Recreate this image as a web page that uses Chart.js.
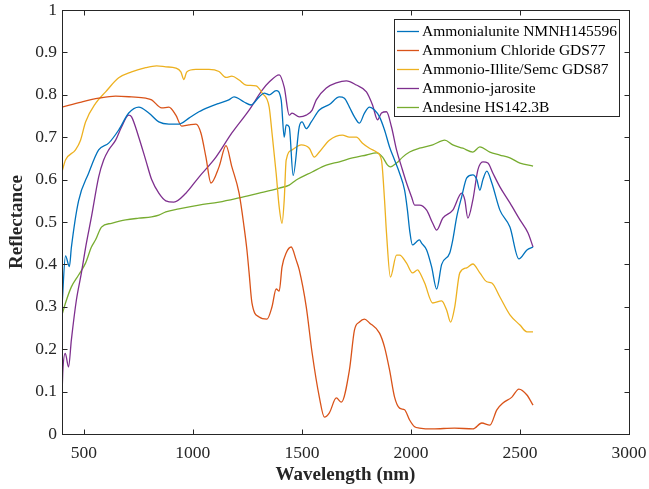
<!DOCTYPE html>
<html>
<head>
<meta charset="utf-8">
<script src="https://cdn.jsdelivr.net/npm/chart.js@4.4.1/dist/chart.umd.min.js"></script>
<style>
  html, body { margin: 0; padding: 0; background: #fff; }
  #wrap { width: 649px; height: 489px; }
</style>
</head>
<body>
<div id="wrap"><canvas id="c" width="649" height="489"></canvas></div>
<script>
// ---- Data ----
const seriesNames = ["Ammonialunite NMNH145596", "Ammonium Chloride GDS77", "Ammonio-Illite/Semc GDS87", "Ammonio-jarosite", "Andesine HS142.3B"];
const seriesColors = ["#0072BD", "#D95319", "#EDB120", "#7E2F8E", "#77AC30"];

const xTickValues = [500, 1000, 1500, 2000, 2500, 3000];
const yTickValues = [0, 0.1, 0.2, 0.3, 0.4, 0.5, 0.6, 0.7, 0.8, 0.9, 1];

const alunWl = [400, 416, 434, 443, 476, 522, 568, 614, 660, 706, 752, 798, 844, 890, 936, 982, 1028, 1074, 1120, 1165, 1189, 1235, 1267, 1304, 1327, 1350, 1382, 1405, 1419, 1428, 1442, 1460, 1488, 1501, 1520, 1543, 1580, 1626, 1672, 1695, 1718, 1741, 1764, 1787, 1810, 1833, 1856, 1879, 1902, 1925, 1948, 1971, 1984, 1994, 2007, 2025, 2039, 2049, 2072, 2095, 2118, 2141, 2178, 2192, 2210, 2233, 2256, 2284, 2302, 2316, 2330, 2348, 2371, 2408, 2454, 2495, 2532, 2560];
const alunR  = [0.30, 0.42, 0.395, 0.44, 0.55, 0.615, 0.67, 0.686, 0.717, 0.757, 0.771, 0.757, 0.736, 0.731, 0.731, 0.745, 0.76, 0.771, 0.78, 0.788, 0.795, 0.783, 0.776, 0.795, 0.804, 0.80, 0.81, 0.788, 0.70, 0.729, 0.724, 0.61, 0.725, 0.736, 0.72, 0.736, 0.764, 0.777, 0.795, 0.792, 0.771, 0.748, 0.733, 0.757, 0.771, 0.764, 0.748, 0.717, 0.677, 0.646, 0.615, 0.575, 0.528, 0.481, 0.446, 0.453, 0.458, 0.45, 0.434, 0.394, 0.342, 0.40, 0.427, 0.458, 0.512, 0.56, 0.604, 0.611, 0.60, 0.575, 0.60, 0.62, 0.592, 0.528, 0.488, 0.413, 0.434, 0.441];

const chlorWl = [400, 489, 568, 646, 719, 784, 811, 857, 890, 922, 949, 982, 1014, 1037, 1060, 1083, 1120, 1152, 1179, 1212, 1235, 1248, 1258, 1271, 1304, 1340, 1363, 1382, 1396, 1409, 1428, 1451, 1474, 1488, 1520, 1547, 1580, 1603, 1626, 1658, 1681, 1718, 1741, 1764, 1787, 1810, 1856, 1879, 1902, 1925, 1948, 1971, 1994, 2017, 2039, 2100, 2200, 2284, 2325, 2362, 2394, 2422, 2463, 2495, 2532, 2560];
const chlorR  = [0.771, 0.783, 0.792, 0.797, 0.795, 0.792, 0.788, 0.769, 0.771, 0.752, 0.726, 0.729, 0.731, 0.71, 0.653, 0.592, 0.63, 0.68, 0.63, 0.568, 0.488, 0.434, 0.38, 0.309, 0.276, 0.271, 0.30, 0.342, 0.337, 0.394, 0.427, 0.441, 0.41, 0.387, 0.30, 0.191, 0.087, 0.04, 0.05, 0.085, 0.075, 0.151, 0.245, 0.264, 0.271, 0.262, 0.238, 0.205, 0.151, 0.087, 0.061, 0.057, 0.033, 0.017, 0.014, 0.012, 0.014, 0.012, 0.026, 0.021, 0.057, 0.073, 0.087, 0.106, 0.092, 0.068];

const illWl = [400, 416, 462, 485, 508, 554, 600, 660, 719, 784, 834, 876, 922, 945, 959, 972, 1014, 1074, 1120, 1152, 1179, 1212, 1244, 1290, 1318, 1350, 1363, 1382, 1396, 1409, 1419, 1428, 1455, 1497, 1534, 1557, 1580, 1626, 1686, 1718, 1750, 1778, 1810, 1842, 1865, 1879, 1888, 1906, 1934, 1948, 1980, 2007, 2031, 2039, 2063, 2100, 2141, 2164, 2182, 2201, 2224, 2256, 2284, 2316, 2348, 2371, 2408, 2454, 2500, 2532, 2560];
const illR  = [0.618, 0.646, 0.67, 0.693, 0.736, 0.78, 0.807, 0.84, 0.854, 0.864, 0.868, 0.866, 0.863, 0.854, 0.836, 0.854, 0.86, 0.86, 0.855, 0.841, 0.844, 0.835, 0.823, 0.821, 0.804, 0.771, 0.71, 0.615, 0.535, 0.497, 0.552, 0.646, 0.67, 0.682, 0.674, 0.653, 0.665, 0.693, 0.705, 0.70, 0.70, 0.686, 0.674, 0.665, 0.646, 0.552, 0.474, 0.37, 0.422, 0.422, 0.403, 0.38, 0.387, 0.382, 0.356, 0.309, 0.314, 0.292, 0.264, 0.30, 0.38, 0.392, 0.401, 0.38, 0.359, 0.356, 0.323, 0.281, 0.257, 0.241, 0.241];

const jarWl = [400, 404, 415, 430, 443, 466, 489, 510, 535, 568, 591, 614, 646, 673, 706, 719, 752, 784, 811, 844, 876, 913, 968, 1028, 1106, 1179, 1258, 1318, 1350, 1396, 1419, 1442, 1455, 1488, 1520, 1547, 1566, 1612, 1658, 1704, 1750, 1796, 1824, 1847, 1865, 1888, 1911, 1934, 1957, 1980, 2003, 2017, 2039, 2072, 2100, 2118, 2146, 2192, 2233, 2247, 2261, 2284, 2307, 2330, 2353, 2376, 2408, 2454, 2500, 2537, 2560];
const jarR  = [0.09, 0.15, 0.19, 0.158, 0.222, 0.316, 0.38, 0.445, 0.512, 0.606, 0.646, 0.67, 0.693, 0.724, 0.752, 0.748, 0.70, 0.646, 0.60, 0.568, 0.55, 0.547, 0.568, 0.606, 0.653, 0.71, 0.764, 0.811, 0.83, 0.847, 0.818, 0.752, 0.757, 0.748, 0.752, 0.764, 0.788, 0.816, 0.828, 0.833, 0.823, 0.807, 0.776, 0.741, 0.757, 0.76, 0.724, 0.67, 0.63, 0.592, 0.559, 0.54, 0.54, 0.528, 0.497, 0.481, 0.509, 0.528, 0.568, 0.552, 0.509, 0.552, 0.623, 0.642, 0.639, 0.615, 0.583, 0.545, 0.505, 0.474, 0.441];

const andWl = [400, 416, 443, 476, 508, 535, 554, 581, 627, 692, 752, 811, 844, 876, 936, 1028, 1120, 1212, 1304, 1363, 1396, 1442, 1474, 1547, 1612, 1672, 1732, 1796, 1842, 1870, 1893, 1906, 1934, 1962, 1994, 2039, 2100, 2155, 2192, 2238, 2284, 2316, 2362, 2408, 2454, 2500, 2560];
const andR  = [0.281, 0.309, 0.347, 0.375, 0.403, 0.441, 0.458, 0.488, 0.497, 0.505, 0.509, 0.512, 0.516, 0.524, 0.531, 0.54, 0.547, 0.557, 0.568, 0.575, 0.58, 0.587, 0.599, 0.618, 0.634, 0.642, 0.651, 0.658, 0.663, 0.653, 0.634, 0.63, 0.639, 0.653, 0.665, 0.674, 0.682, 0.693, 0.682, 0.674, 0.665, 0.677, 0.665, 0.658, 0.651, 0.639, 0.632];

// ---- Build datasets ----
const seriesX = [alunWl, chlorWl, illWl, jarWl, andWl];
const seriesY = [alunR, chlorR, illR, jarR, andR];
const FONT = "'Liberation Serif', 'Times New Roman', serif";
const AX = "#262626";

const datasets = seriesNames.map((name, i) => ({
  label: name,
  data: seriesX[i].map((x, k) => ({ x: x, y: seriesY[i][k] })),
  borderColor: seriesColors[i],
  backgroundColor: seriesColors[i],
  borderWidth: 1.3,
  pointRadius: 0,
  fill: false,
  tension: 0.35,
  cubicInterpolationMode: 'monotone'
}));

// frame, inward ticks and in-plot legend
const framePlugin = {
  id: 'frame',
  afterDraw(chart) {
    const ctx = chart.ctx, a = chart.chartArea;
    const xs = chart.scales.x, ys = chart.scales.y;
    ctx.save();
    ctx.strokeStyle = AX;
    ctx.lineWidth = 1;
    const L = Math.round(a.left) + 0.5, R = Math.round(a.right) + 0.5;
    const T = Math.round(a.top) + 0.5, B = Math.round(a.bottom) + 0.5;
    ctx.strokeRect(L, T, R - L, B - T);
    const tl = 5;
    ctx.beginPath();
    xTickValues.forEach(v => {
      const p = Math.round(xs.getPixelForValue(v)) + 0.5;
      ctx.moveTo(p, B); ctx.lineTo(p, B - tl);
      ctx.moveTo(p, T); ctx.lineTo(p, T + tl);
    });
    yTickValues.forEach(v => {
      const p = Math.round(ys.getPixelForValue(v)) + 0.5;
      ctx.moveTo(L, p); ctx.lineTo(L + tl, p);
      ctx.moveTo(R, p); ctx.lineTo(R - tl, p);
    });
    ctx.stroke();

    // legend
    const bx = 394.5, by = 19.5, bw = 225, bh = 97;
    ctx.fillStyle = '#fff';
    ctx.fillRect(bx, by, bw, bh);
    ctx.strokeStyle = AX;
    ctx.strokeRect(bx, by, bw, bh);
    ctx.font = "15.5px " + FONT;
    ctx.textBaseline = 'middle';
    ctx.textAlign = 'left';
    chart.data.datasets.forEach((ds, i) => {
      const yy = 31 + i * 19;
      ctx.strokeStyle = ds.borderColor;
      ctx.lineWidth = 1.3;
      ctx.beginPath();
      ctx.moveTo(397, yy + 0.5); ctx.lineTo(419, yy + 0.5);
      ctx.stroke();
      ctx.fillStyle = '#000';
      ctx.fillText(ds.label, 422, yy + 1);
    });
    ctx.restore();
  }
};

new Chart(document.getElementById('c'), {
  type: 'line',
  data: { datasets: datasets },
  plugins: [framePlugin],
  options: {
    responsive: false,
    animation: false,
    devicePixelRatio: 1,
    layout: { padding: { left: 0, right: 20, top: 10, bottom: 0 } },
    plugins: { legend: { display: false }, tooltip: { enabled: false } },
    scales: {
      x: {
        type: 'linear', min: 400, max: 3000,
        afterBuildTicks: s => { s.ticks = xTickValues.map(v => ({ value: v })); },
        afterFit: s => { s.height = 55; s.paddingLeft = 0; s.paddingRight = 0; },
        grid: { display: false, drawTicks: false },
        border: { display: false },
        ticks: { font: { family: FONT, size: 17.5 }, color: AX, padding: 9, maxRotation: 0, autoSkip: false,
                 callback: v => String(v) },
        title: { display: true, text: 'Wavelength (nm)', color: AX,
                 font: { family: FONT, size: 19, weight: 'bold' }, padding: { top: 0, bottom: 3 } }
      },
      y: {
        type: 'linear', min: 0, max: 1,
        afterBuildTicks: s => { s.ticks = yTickValues.map(v => ({ value: v })); },
        afterFit: s => { s.width = 62; s.paddingTop = 0; s.paddingBottom = 0; },
        grid: { display: false, drawTicks: false },
        border: { display: false },
        ticks: { font: { family: FONT, size: 17.5 }, color: AX, padding: 5, autoSkip: false,
                 callback: v => String(Math.round(v * 10) / 10) },
        title: { display: true, text: 'Reflectance', color: AX,
                 font: { family: FONT, size: 19, weight: 'bold' }, padding: { top: 6, bottom: 0 } }
      }
    }
  }
});
</script>
</body>
</html>
